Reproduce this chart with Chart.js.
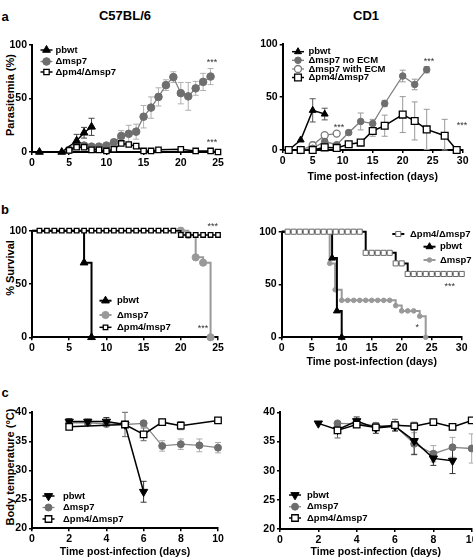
<!DOCTYPE html>
<html>
<head>
<meta charset="utf-8">
<script src="https://cdn.jsdelivr.net/npm/chart.js@4.4.1/dist/chart.umd.min.js"></script>
<style>
html, body { margin: 0; padding: 0; background: #fff; width: 473px; height: 558px; overflow: hidden; }
body { position: relative; font-family: "Liberation Sans", Arial, sans-serif; }
canvas { position: absolute; }
.t { position: absolute; font-weight: bold; white-space: nowrap; line-height: 1; color: #000; transform: translate(-50%, -50%); }
.yt { position: absolute; font-weight: bold; font-size: 11px; white-space: nowrap; line-height: 1; transform: translate(-50%, -50%) rotate(-90deg); }
</style>
</head>
<body>
<div class="t" style="left:125px;top:15px;font-size:13px">C57BL/6</div>
<div class="t" style="left:366px;top:15px;font-size:13px">CD1</div>
<div class="t" style="left:5px;top:16px;font-size:13px">a</div>
<div class="t" style="left:5px;top:209px;font-size:13px">b</div>
<div class="t" style="left:5px;top:392px;font-size:13px">c</div>
<div class="yt" style="left:10px;top:95px">Parasitemia (%)</div>
<div class="yt" style="left:10px;top:268px">% Survival</div>
<div class="yt" style="left:10px;top:467px">Body temperature (°C)</div>
<script>
// ---- a: parasitemia (%) ----
var aLeftPbwtDays = [1, 4, 6, 7, 8];
var aLeftPbwt = [0, 0, 10.5, 18, 23.5];
var aLeftPbwtErr = [0, 0, 6, 5, 8];
var aLeftMsp7Days = [5, 6, 7, 8, 9, 10, 11, 12, 13, 14, 15, 16, 17, 18, 19, 20, 21, 22, 23, 24];
var aLeftMsp7 = [2, 6.5, 6, 5, 5, 6, 9, 15, 17, 19, 33, 41.5, 51.5, 62.5, 70, 55, 52, 59.5, 65.5, 70.5];
var aLeftMsp7Err = [0, 2, 1.5, 1, 1, 1.5, 3, 5, 8, 7, 10.5, 10, 8.5, 5, 5, 10, 13, 6.5, 8, 7.5];
var aLeftPm4Days = [5, 6, 7, 8, 9, 10, 11, 12, 13, 14, 15, 16, 17, 20, 22, 24, 25];
var aLeftPm4 = [1.5, 4.5, 4.5, 2, 2, 1, 2.5, 8, 7, 5.5, 1, 1, 2, 2.5, 1, 1, 0];
var aLeftPm4Err = [0, 1, 1, 0, 0, 0, 0, 1.5, 1.5, 1, 0, 0, 0, 2, 0, 0, 0];

var aRightPbwtDays = [1, 3, 5, 7];
var aRightPbwt = [0, 9.5, 37.5, 34];
var aRightPbwtErr = [0, 0, 11, 5.5];
var aRightNoEcmDays = [3, 5, 7, 9, 11, 13, 15, 17, 20, 22, 24];
var aRightNoEcm = [0, 1.6, 8, 5, 16.5, 27, 25, 44, 70, 62, 76];
var aRightNoEcmErr = [0, 3, 3, 2, 2, 8, 4, 3, 5.5, 5, 3];
var aRightEcmDays = [3, 5, 7, 9];
var aRightEcm = [0, 4.5, 14, 15.5];
var aRightEcmErr = [0, 3, 2, 1.5];
var aRightPm4Days = [1, 3, 5, 7, 9, 11, 13, 15, 17, 20, 22, 24, 27, 29];
var aRightPm4 = [0, 0, 0, 2.5, 2, 5.5, 7, 18, 23, 33.5, 27.5, 19.5, 13.5, 0];
var aRightPm4Err = [0, 0, 0, 2, 1, 1, 1, 5, 10, 17, 18, 19, 15.5, 0];

// ---- b: % survival ----
var bLeftPbwtDays = [0, 7, 8];
var bLeftPbwt = [100, 70, 0];
var bLeftMsp7Days = [0, 20, 21, 22, 23, 24];
var bLeftMsp7 = [100, 100, 96, 75, 70, 0];
var bLeftPm4Days = [0, 1, 2, 3, 4, 5, 6, 7, 8, 9, 10, 11, 12, 13, 14, 15, 16, 17, 18, 19, 20, 21, 22, 23, 24, 25];
var bLeftPm4 = [100, 100, 100, 100, 100, 100, 100, 100, 100, 100, 100, 100, 100, 100, 100, 100, 100, 100, 100, 100, 96, 96, 96, 96, 96, 96];

var bRightPbwtDays = [0, 8.4, 9.2, 10];
var bRightPbwt = [100, 75, 25, 0];
var bRightMsp7Days = [0, 8, 8.9, 10, 11, 12, 13, 14, 15, 16, 17, 18, 19, 20, 21, 22, 23, 24];
var bRightMsp7 = [100, 70, 45, 35, 35, 35, 35, 35, 35, 35, 35, 35, 30, 25, 25, 25, 20, 0];
var bRightPm4Days = [0, 1, 2, 3, 4, 5, 6, 7, 8, 9, 10, 11, 12, 13, 14, 15, 16, 17, 18, 19, 20, 21, 22, 23, 24, 25, 26, 27, 28, 29, 30];
var bRightPm4 = [100, 100, 100, 100, 100, 100, 100, 100, 100, 100, 100, 100, 100, 100, 80, 80, 80, 80, 80, 70, 70, 60, 60, 60, 60, 60, 60, 60, 60, 60, 60];

// ---- c: body temperature (°C) ----
var cLeftPbwtDays = [2, 3, 4, 5, 6];
var cLeftPbwt = [38.4, 38.4, 38.4, 37.9, 26.3];
var cLeftPbwtErr = [0.5, 0.4, 0.7, 0.5, 1.8];
var cLeftMsp7Days = [2, 3, 4, 5, 6, 7, 8, 9, 10];
var cLeftMsp7 = [38.2, 38.2, 38.0, 37.9, 38.1, 34.2, 34.5, 34.3, 33.9];
var cLeftMsp7Err = [0.4, 0.3, 0.5, 0.5, 0.5, 0.9, 0.9, 1.1, 0.9];
var cLeftPm4Days = [2, 5, 6, 7, 8, 10];
var cLeftPm4 = [37.5, 37.9, 36.2, 38.3, 37.7, 38.6];
var cLeftPm4Err = [0.4, 2.1, 1.1, 0.5, 0.7, 0.3];

var cRightPbwtDays = [2, 3, 4, 5, 6, 7, 8, 9];
var cRightPbwt = [38.1, 37.0, 38.5, 37.3, 37.6, 35.1, 32.1, 31.7];
var cRightPbwtErr = [0, 0.6, 0.7, 0.9, 0.8, 2.3, 1.2, 2.2];
var cRightMsp7Days = [3, 4, 5, 6, 7, 8, 9, 10];
var cRightMsp7 = [38.1, 38.0, 37.7, 37.7, 34.6, 32.9, 34.0, 33.8];
var cRightMsp7Err = [0.3, 0.4, 0.4, 0.5, 1.9, 1.4, 1.7, 2.5];
var cRightPm4Days = [3, 4, 5, 6, 7, 8, 9, 10];
var cRightPm4 = [36.9, 37.9, 37.4, 37.8, 37.6, 38.3, 37.5, 38.6];
var cRightPm4Err = [1.3, 0.5, 0.5, 1.0, 0.7, 0.3, 0.5, 0.3];

var xTitle = 'Time post-infection (days)';
var FONT = '"Liberation Sans", Arial, sans-serif';

function pts(xs, ys) {
  return xs.map(function(x, i) { return {x: x, y: ys[i]}; });
}
// first point is only the start of a survival curve, no marker there
function radii(xs, r) {
  return xs.map(function(x, i) { return i === 0 ? 0 : r; });
}

var styles = {
  pbwt: {borderColor: '#000', borderWidth: 1.5, pointStyle: 'triangle', pointRadius: 4.5,
         pointBackgroundColor: '#000', pointBorderColor: '#000', pointBorderWidth: 1, order: 1},
  msp7: {borderColor: '#808080', borderWidth: 1.3, pointStyle: 'circle', pointRadius: 3.6,
         pointBackgroundColor: '#6e6e6e', pointBorderColor: '#6e6e6e', pointBorderWidth: 1, order: 2},
  ecm:  {borderColor: '#808080', borderWidth: 1.3, pointStyle: 'circle', pointRadius: 3.6,
         pointBackgroundColor: '#fff', pointBorderColor: '#7a7a7a', pointBorderWidth: 1.3, order: 2},
  pm4:  {borderColor: '#000', borderWidth: 1.5, pointStyle: 'rect', pointRadius: 4.3,
         pointBackgroundColor: '#fff', pointBorderColor: '#000', pointBorderWidth: 1.3, order: 0}
};

function series(kind, xs, ys, extra) {
  var ds = Object.assign({data: pts(xs, ys), clip: false, tension: 0}, styles[kind], extra || {});
  return ds;
}

function drawMarker(ctx, ds, x, y) {
  var r = Array.isArray(ds.pointRadius) ? Math.max.apply(null, ds.pointRadius) : ds.pointRadius;
  ctx.save();
  ctx.beginPath();
  if (ds.pointStyle === 'circle') {
    ctx.arc(x, y, r, 0, Math.PI * 2);
  } else if (ds.pointStyle === 'rect') {
    var s = r * Math.SQRT1_2;
    ctx.rect(x - s, y - s, 2 * s, 2 * s);
  } else {
    var a0 = (ds.pointRotation || 0) * Math.PI / 180;
    for (var k = 0; k < 3; k++) {
      var a = a0 + k * Math.PI * 2 / 3;
      var px = x + Math.sin(a) * r, py = y - Math.cos(a) * r;
      if (k === 0) ctx.moveTo(px, py); else ctx.lineTo(px, py);
    }
    ctx.closePath();
  }
  ctx.fillStyle = ds.pointBackgroundColor;
  ctx.fill();
  ctx.lineWidth = ds.pointBorderWidth || 1;
  ctx.strokeStyle = ds.pointBorderColor;
  ctx.stroke();
  ctx.restore();
}

// error bars, asterisks and the in-plot legend
function extras(p) {
  var ox = p.box[0], oy = p.box[1];
  return {
    id: 'extras',
    beforeDatasetsDraw: function(chart) {
      var ctx = chart.ctx, sx = chart.scales.x, sy = chart.scales.y;
      (p.errors || []).forEach(function(e) {
        var data = chart.data.datasets[e.ds].data;
        ctx.save();
        ctx.strokeStyle = e.color;
        ctx.lineWidth = 1;
        data.forEach(function(d, i) {
          var v = e.err[i];
          if (!v) return;
          var px = sx.getPixelForValue(d.x);
          var top = sy.getPixelForValue(d.y + v);
          var bot = sy.getPixelForValue(Math.max(d.y - v, sy.min));
          ctx.beginPath();
          ctx.moveTo(px, top); ctx.lineTo(px, bot);
          ctx.moveTo(px - 3, top); ctx.lineTo(px + 3, top);
          ctx.moveTo(px - 3, bot); ctx.lineTo(px + 3, bot);
          ctx.stroke();
        });
        ctx.restore();
      });
    },
    afterDatasetsDraw: function(chart) {
      var ctx = chart.ctx, sx = chart.scales.x, sy = chart.scales.y;
      ctx.save();
      ctx.fillStyle = '#333';
      ctx.font = '9px ' + FONT;
      ctx.textAlign = 'center';
      ctx.textBaseline = 'middle';
      (p.stars || []).forEach(function(s) {
        ctx.fillText(s.t, sx.getPixelForValue(s.x), sy.getPixelForValue(s.y));
      });
      ctx.restore();
    },
    afterDraw: function(chart) {
      var ctx = chart.ctx;
      (p.legend || []).forEach(function(item) {
        var ds = chart.data.datasets[item.ds];
        var y = item.y - oy;
        ctx.save();
        ctx.strokeStyle = ds.borderColor;
        ctx.lineWidth = ds.borderWidth;
        ctx.beginPath();
        ctx.moveTo(item.mx - 6 - ox, y);
        ctx.lineTo(item.mx + 6 - ox, y);
        ctx.stroke();
        ctx.restore();
        drawMarker(ctx, ds, item.mx - ox, y);
        ctx.save();
        ctx.fillStyle = '#000';
        ctx.font = 'bold 9.5px ' + FONT;
        ctx.textBaseline = 'middle';
        ctx.fillText(item.text, item.tx - ox, y);
        ctx.restore();
      });
    }
  };
}

function panel(p) {
  var c = document.createElement('canvas');
  c.width = p.box[2];
  c.height = p.box[3];
  c.style.left = p.box[0] + 'px';
  c.style.top = p.box[1] + 'px';
  document.body.appendChild(c);

  var yW = p.area[0] - p.box[0];
  var xH = p.box[1] + p.box[3] - p.area[3];
  var tickFont = {family: FONT, size: 10.5, weight: 'bold'};
  var titlePad = p.xTitleY ? p.box[1] + p.box[3] - p.xTitleY - 6.3 : 0;

  function axis(min, max, step) {
    return {
      type: 'linear', min: min, max: max,
      ticks: {stepSize: step, font: tickFont, color: '#000', padding: 2},
      grid: {drawOnChartArea: false, drawTicks: true, tickLength: 3, color: '#000', lineWidth: 1.5},
      border: {display: true, color: '#000', width: 2}
    };
  }
  var x = axis(p.x[0], p.x[1], p.x[2]);
  x.afterFit = function(s) { s.height = xH; };
  x.title = {display: !!p.xTitleY, text: xTitle, color: '#000',
             font: {family: FONT, size: 10.5, weight: 'bold'}, padding: {top: 0, bottom: titlePad}};
  var y = axis(p.y[0], p.y[1], p.y[2]);
  y.afterFit = function(s) { s.width = yW; };

  new Chart(c, {
    type: 'line',
    data: {datasets: p.datasets},
    options: {
      responsive: false,
      animation: false,
      layout: {padding: {left: 0, bottom: 0, top: p.area[2] - p.box[1], right: p.box[0] + p.box[2] - p.area[1]}},
      plugins: {legend: {display: false}, tooltip: {enabled: false}},
      scales: {x: x, y: y}
    },
    plugins: [extras(p)]
  });
}

// a, C57BL/6
panel({
  box: [0, 25, 235, 147], area: [32, 218, 45, 152],
  x: [0, 25, 5], y: [0, 100, 50],
  datasets: [
    series('pm4', aLeftPm4Days, aLeftPm4, {pointRadius: 3.8}),
    series('pbwt', aLeftPbwtDays, aLeftPbwt),
    series('msp7', aLeftMsp7Days, aLeftMsp7, {pointRadius: 3.8})
  ],
  errors: [
    {ds: 2, err: aLeftMsp7Err, color: '#b0b0b0'},
    {ds: 1, err: aLeftPbwtErr, color: '#444'},
    {ds: 0, err: aLeftPm4Err, color: '#777'}
  ],
  stars: [{x: 24.2, y: 84, t: '***'}, {x: 24.2, y: 9, t: '***'}],
  legend: [
    {ds: 1, mx: 46.5, tx: 55.5, y: 50, text: 'pbwt'},
    {ds: 2, mx: 46.5, tx: 55.5, y: 61.5, text: 'Δmsp7'},
    {ds: 0, mx: 46.5, tx: 55.5, y: 72, text: 'Δpm4/Δmsp7'}
  ]
});

// a, CD1
panel({
  box: [235, 25, 238, 160], area: [282.7, 462.7, 44.3, 150],
  x: [0, 30, 5], y: [0, 100, 50], xTitleY: 177,
  datasets: [
    series('pm4', aRightPm4Days, aRightPm4, {pointRadius: 4.8}),
    series('pbwt', aRightPbwtDays, aRightPbwt, {pointRadius: 4}),
    series('msp7', aRightNoEcmDays, aRightNoEcm, {pointRadius: 3.3}),
    series('ecm', aRightEcmDays, aRightEcm, {pointRadius: 3.5})
  ],
  errors: [
    {ds: 2, err: aRightNoEcmErr, color: '#999'},
    {ds: 3, err: aRightEcmErr, color: '#aaa'},
    {ds: 1, err: aRightPbwtErr, color: '#555'},
    {ds: 0, err: aRightPm4Err, color: '#999'}
  ],
  stars: [{x: 24.4, y: 84, t: '***'}, {x: 9.4, y: 21, t: '***'}, {x: 29.9, y: 23.6, t: '***'}],
  legend: [
    {ds: 1, mx: 298, tx: 308.5, y: 51.7, text: 'pbwt'},
    {ds: 2, mx: 298, tx: 308.5, y: 60.3, text: 'Δmsp7 no ECM'},
    {ds: 3, mx: 298, tx: 308.5, y: 69, text: 'Δmsp7 with ECM'},
    {ds: 0, mx: 298, tx: 308.5, y: 77.5, text: 'Δpm4/Δmsp7'}
  ]
});

// b, C57BL/6
panel({
  box: [0, 195, 235, 163], area: [32, 218, 230.7, 337.3],
  x: [0, 25, 5], y: [0, 100, 50],
  datasets: [
    series('pm4', bLeftPm4Days, bLeftPm4, {pointRadius: radii(bLeftPm4Days, 3.2), stepped: true, borderWidth: 1.5}),
    series('pbwt', bLeftPbwtDays, bLeftPbwt, {pointRadius: radii(bLeftPbwtDays, 4.5), stepped: true, borderWidth: 2}),
    series('msp7', bLeftMsp7Days, bLeftMsp7, {pointRadius: radii(bLeftMsp7Days, 3.6), stepped: true, borderWidth: 2,
      borderColor: '#999', pointBackgroundColor: '#999', pointBorderColor: '#999'})
  ],
  stars: [{x: 24.3, y: 104, t: '***'}, {x: 23, y: 8, t: '***'}],
  legend: [
    {ds: 1, mx: 105.5, tx: 117, y: 300.7, text: 'pbwt'},
    {ds: 2, mx: 105.5, tx: 117, y: 315, text: 'Δmsp7'},
    {ds: 0, mx: 105.5, tx: 117, y: 327.3, text: 'Δpm4/msp7'}
  ]
});

// b, CD1
panel({
  box: [235, 195, 238, 175], area: [281.7, 461.7, 231.7, 337.3],
  x: [0, 30, 5], y: [0, 100, 50], xTitleY: 362,
  datasets: [
    series('pm4', bRightPm4Days, bRightPm4, {pointRadius: radii(bRightPm4Days, 3.6), stepped: true, borderWidth: 2,
      pointBorderColor: '#666', pointBorderWidth: 1}),
    series('pbwt', bRightPbwtDays, bRightPbwt, {pointRadius: radii(bRightPbwtDays, 4), stepped: true, borderWidth: 2}),
    series('msp7', bRightMsp7Days, bRightMsp7, {pointRadius: radii(bRightMsp7Days, 2.3), stepped: true, borderWidth: 2,
      borderColor: '#999', pointBackgroundColor: '#999', pointBorderColor: '#999'})
  ],
  stars: [{x: 28, y: 48.5, t: '***'}, {x: 22.6, y: 9.7, t: '*'}],
  legend: [
    {ds: 0, mx: 398.3, tx: 410, y: 234, text: 'Δpm4/Δmsp7'},
    {ds: 1, mx: 429.5, tx: 440, y: 246.7, text: 'pbwt'},
    {ds: 2, mx: 429.5, tx: 440, y: 260, text: 'Δmsp7'}
  ]
});

// c, C57BL/6
panel({
  box: [0, 385, 235, 175], area: [32, 218, 412.3, 528.3],
  x: [0, 10, 2], y: [20, 40, 5], xTitleY: 552,
  datasets: [
    series('pm4', cLeftPm4Days, cLeftPm4, {pointRadius: 4.6}),
    series('pbwt', cLeftPbwtDays, cLeftPbwt, {pointRadius: 4.8, pointRotation: 180}),
    series('msp7', cLeftMsp7Days, cLeftMsp7, {pointRadius: 3.5, borderColor: '#888'})
  ],
  errors: [
    {ds: 2, err: cLeftMsp7Err, color: '#aaa'},
    {ds: 1, err: cLeftPbwtErr, color: '#333'},
    {ds: 0, err: cLeftPm4Err, color: '#666'}
  ],
  legend: [
    {ds: 1, mx: 48.5, tx: 63, y: 496, text: 'pbwt'},
    {ds: 2, mx: 48.5, tx: 63, y: 507.5, text: 'Δmsp7'},
    {ds: 0, mx: 48.5, tx: 63, y: 519, text: 'Δpm4/Δmsp7'}
  ]
});

// c, CD1
panel({
  box: [235, 385, 255, 175], area: [280, 471.7, 412.3, 529],
  x: [0, 10, 2], y: [20, 40, 5], xTitleY: 552,
  datasets: [
    series('pm4', cRightPm4Days, cRightPm4, {pointRadius: 4.6}),
    series('pbwt', cRightPbwtDays, cRightPbwt, {pointRadius: 4.8, pointRotation: 180}),
    series('msp7', cRightMsp7Days, cRightMsp7, {pointRadius: 3.5, borderColor: '#888'})
  ],
  errors: [
    {ds: 2, err: cRightMsp7Err, color: '#aaa'},
    {ds: 1, err: cRightPbwtErr, color: '#333'},
    {ds: 0, err: cRightPm4Err, color: '#666'}
  ],
  legend: [
    {ds: 1, mx: 295, tx: 307, y: 495, text: 'pbwt'},
    {ds: 2, mx: 295, tx: 307, y: 506.7, text: 'Δmsp7'},
    {ds: 0, mx: 295, tx: 307, y: 518, text: 'Δpm4/Δmsp7'}
  ]
});
</script>
</body>
</html>
